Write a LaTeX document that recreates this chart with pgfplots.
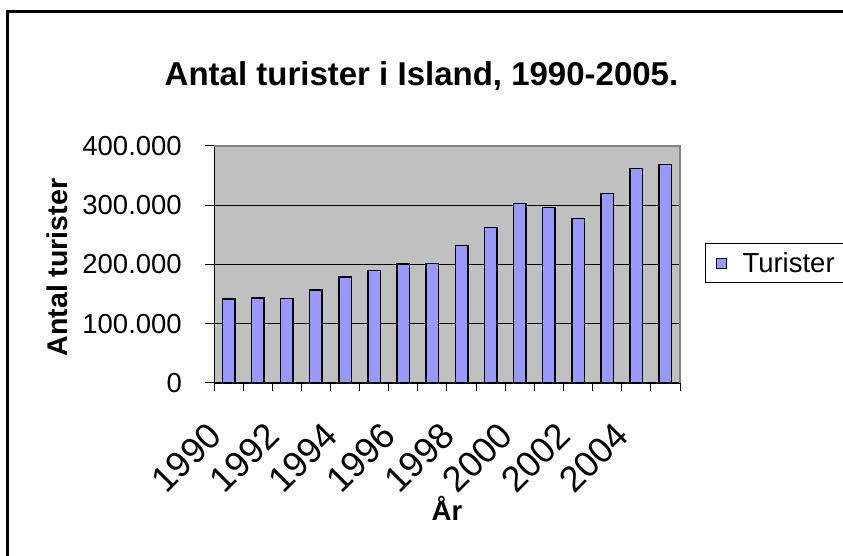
\documentclass[border=0pt]{standalone}
\usepackage{fontspec}
\setmainfont{Liberation Sans}
\usepackage{pgfplots}
\pgfplotsset{compat=1.18}
\definecolor{barfill}{HTML}{9999FF}
\definecolor{plotbg}{HTML}{C0C0C0}
\definecolor{bordergray}{HTML}{808080}
\newcommand{\tfont}{\fontsize{27.5}{33}\selectfont}
\newcommand{\xl}[1]{\mbox{\fontsize{36}{40}\selectfont #1}}
\begin{document}
\begin{tikzpicture}
\useasboundingbox (0pt,0pt) rectangle (843pt,556pt);
\fill[white] (0pt,0pt) rectangle (843pt,556pt);
\begin{axis}[
  at={(214pt,173pt)}, anchor=south west,
  scale only axis, width=466pt, height=237pt,
  xmin=1989.5, xmax=2005.5, ymin=0, ymax=400000,
  ybar, bar width=12.5pt,
  axis background/.style={fill=plotbg},
  axis x line*=bottom, axis y line*=left,
  axis line style={-, black, line width=1pt},
  xtick={1990,1992,...,2004},
  xticklabels={\xl{1990},\xl{1992},\xl{1994},\xl{1996},\xl{1998},\xl{2000},\xl{2002},\xl{2004}},
  minor xtick={1989.5,1990.5,...,2005.5},
  major x tick style={draw=none},
  ytick={0,100000,200000,300000,400000},
  yticklabels={0,100.000,200.000,300.000,400.000},
  scaled y ticks=false,
  tick align=outside, major tick length=9pt, minor tick length=8.5pt,
  tick style={black, line width=1pt},
  ymajorgrids, grid style={black, line width=0.8pt},
  tick label style={font=\tfont},
  yticklabel style={anchor=east, inner sep=0pt, xshift=-23pt},
  xticklabel style={inner sep=0pt, xshift=-23pt, yshift=-28pt, rotate=45, anchor=north east},
  legend style={at={(axis description cs:1,0.506)}, anchor=west, xshift=25pt,
    draw=black, line width=1pt, fill=white, font=\tfont, inner xsep=0pt, inner ysep=7pt},
  legend image code/.code={\path[draw=none,fill=none] (0pt,0pt) -- (35pt,0pt); \draw[#1, line width=1pt] (11pt,-5pt) rectangle (21pt,5pt);},
  after end axis/.code={\draw[bordergray, line width=1.5pt] (rel axis cs:0,1) -- (rel axis cs:1,1) -- (rel axis cs:1,0);},
]
\addplot[fill=barfill, draw=black, line width=1.5pt] coordinates {
(1990,141700) (1991,143500) (1992,142600) (1993,157300) (1994,179200)
(1995,189800) (1996,200800) (1997,201700) (1998,232200) (1999,262600)
(2000,302900) (2001,296000) (2002,277900) (2003,320000) (2004,362200)
(2005,369000)};
\addlegendentry{Turister\hspace*{14pt}}
\end{axis}
\node[anchor=base, font=\fontsize{33}{40}\selectfont\bfseries] at (421.5pt,470pt) {Antal turister i Island, 1990-2005.};
\node[rotate=90, font=\fontsize{28.5}{34}\selectfont\bfseries] at (57pt,288.5pt) {Antal turister};
\node[anchor=base, font=\tfont\bfseries] at (447pt,35.3pt) {År};
\draw[line width=2.5pt, black] (7.5pt,-5pt) -- (7.5pt,544.7pt) -- (850pt,544.7pt);
\end{tikzpicture}
\end{document}
